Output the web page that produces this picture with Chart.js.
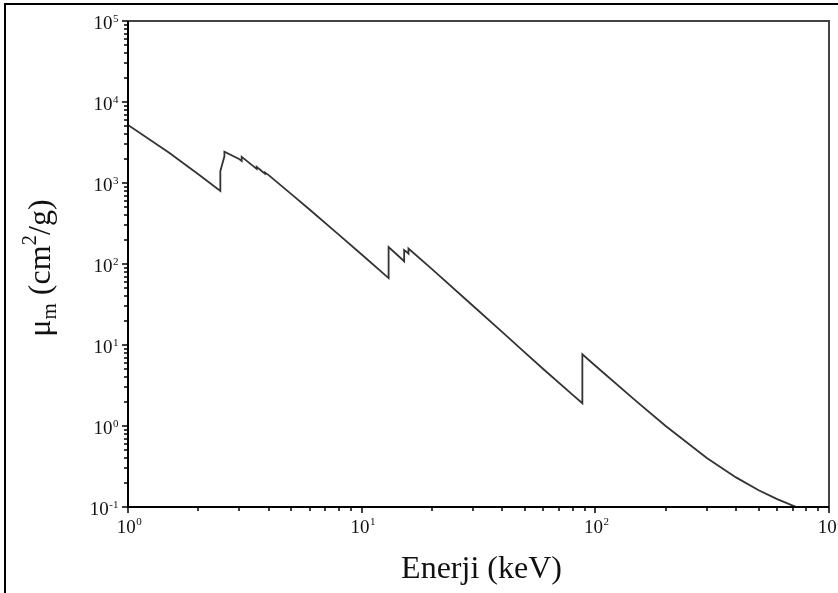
<!DOCTYPE html>
<html>
<head>
<meta charset="utf-8">
<script src="https://cdn.jsdelivr.net/npm/chart.js@4.4.0/dist/chart.umd.min.js"></script>
<style>
  html, body { margin: 0; padding: 0; background: #fff; }
  canvas { display: block; }
</style>
</head>
<body>
<canvas id="chart" width="838" height="593"></canvas>
<script>
// Kütle azaltma katsayısı - enerji (kurşun)
const energy = [1, 1.5, 2, 2.484, 2.484, 2.534, 2.586, 2.586, 3, 3.066, 3.066, 3.301, 3.554, 3.554,
    3.699, 3.851, 3.851, 4, 5, 6, 8, 10, 13.04, 13.04, 15, 15.2, 15.2, 15.53, 15.86, 15.86,
    20, 30, 40, 50, 60, 80, 88, 88, 100, 150, 200, 300, 400, 500, 600, 800, 1000];
const muM = [5210, 2356, 1285, 800, 1397, 1726, 2135, 2442, 1965, 1874, 2099, 1774, 1492, 1584,
    1437, 1306, 1349, 1251, 730, 467, 229, 131, 67, 162, 112, 108, 149, 142, 134, 155,
    86.4, 30.3, 14.4, 8.04, 5.02, 2.42, 1.91, 7.68, 5.55, 2.01, 1.0, 0.403, 0.232, 0.161, 0.125, 0.0887, 0.071];

const xDecades = [0, 1, 2, 3];
const yDecades = [-1, 0, 1, 2, 3, 4, 5];
const xTitle = "Enerji (keV)";
const yTitleParts = [["μ", "n"], ["m", "sub"], [" (cm", "n"], ["2", "sup"], ["/g)", "n"]];

const SERIF = "'Liberation Serif', 'Times New Roman', serif";

const decorPlugin = {
    id: 'decor',
    afterDraw(chart) {
        const ctx = chart.ctx;
        const area = chart.chartArea;
        const xs = chart.scales.x, ys = chart.scales.y;
        ctx.save();

        // dış çerçeve
        ctx.strokeStyle = '#000';
        ctx.lineWidth = 2;
        ctx.beginPath();
        ctx.moveTo(5, 593); ctx.lineTo(5, 4); ctx.lineTo(838, 4);
        ctx.stroke();

        // grafik kutusu
        ctx.strokeStyle = '#444';
        ctx.beginPath();
        ctx.moveTo(area.left, area.top); ctx.lineTo(area.right, area.top); ctx.lineTo(area.right, area.bottom);
        ctx.stroke();
        ctx.strokeStyle = '#000';
        ctx.beginPath();
        ctx.moveTo(area.left, area.top); ctx.lineTo(area.left, area.bottom); ctx.lineTo(area.right, area.bottom);
        ctx.stroke();

        // tik çizgileri
        ctx.lineWidth = 1.5;
        ctx.beginPath();
        xDecades.forEach(d => {
            const px = Math.round(xs.getPixelForValue(Math.pow(10, d)));
            ctx.moveTo(px, area.bottom); ctx.lineTo(px, area.bottom + 6);
            if (d < xDecades[xDecades.length - 1]) {
                for (let k = 2; k <= 9; k++) {
                    const mx = Math.round(xs.getPixelForValue(k * Math.pow(10, d)));
                    ctx.moveTo(mx, area.bottom); ctx.lineTo(mx, area.bottom + 4);
                }
            }
        });
        yDecades.forEach(d => {
            const py = Math.round(ys.getPixelForValue(Math.pow(10, d)));
            ctx.moveTo(area.left, py); ctx.lineTo(area.left - 6, py);
            if (d < yDecades[yDecades.length - 1]) {
                for (let k = 2; k <= 9; k++) {
                    const my = Math.round(ys.getPixelForValue(k * Math.pow(10, d)));
                    ctx.moveTo(area.left, my); ctx.lineTo(area.left - 4, my);
                }
            }
        });
        ctx.stroke();

        // tik etiketleri (10 üzeri n)
        ctx.fillStyle = '#111';
        ctx.textBaseline = 'alphabetic';
        ctx.textAlign = 'left';
        const bigFont = '19px ' + SERIF, smallFont = '11px ' + SERIF;
        function measure(exp) {
            ctx.font = bigFont; const w1 = ctx.measureText('10').width;
            ctx.font = smallFont; const w2 = ctx.measureText(String(exp)).width;
            return [w1, w2];
        }
        xDecades.forEach(d => {
            const px = xs.getPixelForValue(Math.pow(10, d));
            const [w1, w2] = measure(d);
            const x0 = px - (w1 + w2) / 2 + 1;
            ctx.font = bigFont; ctx.fillText('10', x0, 533);
            ctx.font = smallFont; ctx.fillText(String(d), x0 + w1 + 0.5, 525);
        });
        yDecades.forEach(d => {
            const py = ys.getPixelForValue(Math.pow(10, d));
            const [w1, w2] = measure(d === -1 ? '-1' : d);
            const x0 = 118 - w1 - w2;
            ctx.font = bigFont; ctx.fillText('10', x0, py + 8);
            ctx.font = smallFont; ctx.fillText(d === -1 ? '-1' : String(d), x0 + w1 + 0.5, py + 1);
        });

        // eksen başlıkları
        ctx.fillStyle = '#111';
        ctx.font = '32px ' + SERIF;
        ctx.textAlign = 'center';
        ctx.fillText(xTitle, (area.left + area.right) / 2 + 3, 578);

        ctx.translate(50, 268);
        ctx.rotate(-Math.PI / 2);
        ctx.textAlign = 'left';
        const fonts = { n: '32px ' + SERIF, sub: '21px ' + SERIF, sup: '21px ' + SERIF };
        const shift = { n: 0, sub: 6, sup: -14 };
        let total = 0;
        yTitleParts.forEach(([t, k]) => { ctx.font = fonts[k]; total += ctx.measureText(t).width; });
        let cx = -total / 2;
        yTitleParts.forEach(([t, k]) => {
            ctx.font = fonts[k];
            ctx.fillText(t, cx, shift[k]);
            cx += ctx.measureText(t).width;
        });
        ctx.restore();
    }
};

new Chart(document.getElementById('chart'), {
    type: 'scatter',
    data: {
        datasets: [{
            data: energy.map((e, i) => ({ x: e, y: muM[i] })),
            showLine: true,
            borderColor: '#333',
            borderWidth: 1.8,
            pointRadius: 0,
            tension: 0
        }]
    },
    options: {
        responsive: false,
        animation: false,
        layout: { padding: { left: 128, top: 21, right: 9, bottom: 86 } },
        plugins: { legend: { display: false }, tooltip: { enabled: false } },
        scales: {
            x: { type: 'logarithmic', min: 1, max: 1000, display: false },
            y: { type: 'logarithmic', min: 0.1, max: 100000, display: false }
        }
    },
    plugins: [decorPlugin]
});
</script>
</body>
</html>
